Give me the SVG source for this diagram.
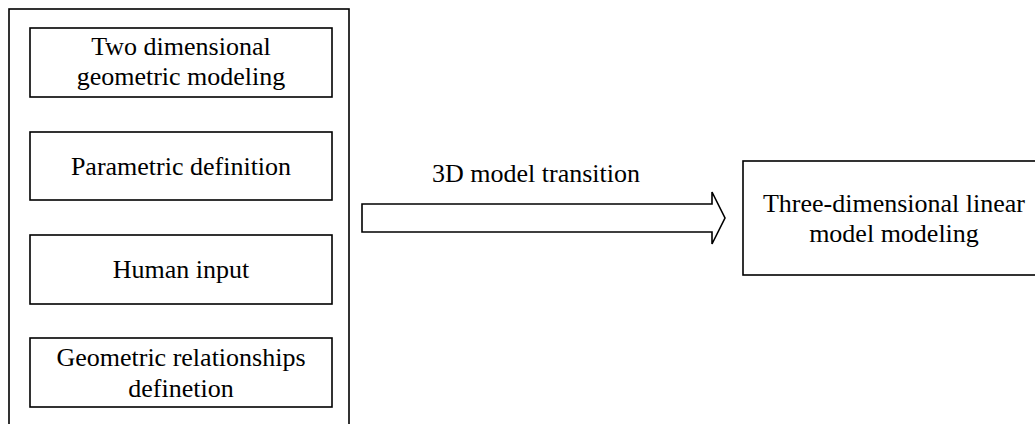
<svg xmlns="http://www.w3.org/2000/svg" width="1035" height="424" viewBox="0 0 1035 424">
<style>
.box{fill:#fff;stroke:#000;stroke-width:1.6}
.t{font-family:"Liberation Serif","Times New Roman",serif;font-size:26px;fill:#000;text-anchor:middle}
</style>
<rect width="1035" height="424" fill="#fff"/>
<g id="container"><rect class="box" x="9" y="9" width="340" height="430"/></g>
<g id="n1"><rect class="box" x="30" y="28" width="302" height="69"/>
<text class="t" x="181" y="55">Two dimensional</text><text class="t" x="181" y="85">geometric modeling</text></g>
<g id="n2"><rect class="box" x="30" y="132" width="302" height="68"/>
<text class="t" x="181" y="175">Parametric definition</text></g>
<g id="n3"><rect class="box" x="30" y="235" width="302" height="69"/>
<text class="t" x="181" y="278">Human input</text></g>
<g id="n4"><rect class="box" x="30" y="338" width="302" height="69"/>
<text class="t" x="181" y="366">Geometric relationships</text><text class="t" x="181" y="397">definetion</text></g>
<g id="n5"><rect class="box" x="743" y="161" width="300" height="114"/>
<text class="t" x="894" y="212">Three-dimensional linear</text><text class="t" x="894" y="242">model modeling</text></g>
<g id="connectors">
<path class="box" d="M362,204 L712,204 L712,192 L725,218 L712,244 L712,232 L362,232 Z"/>
<text class="t" x="536" y="182">3D model transition</text>
</g>
</svg>
